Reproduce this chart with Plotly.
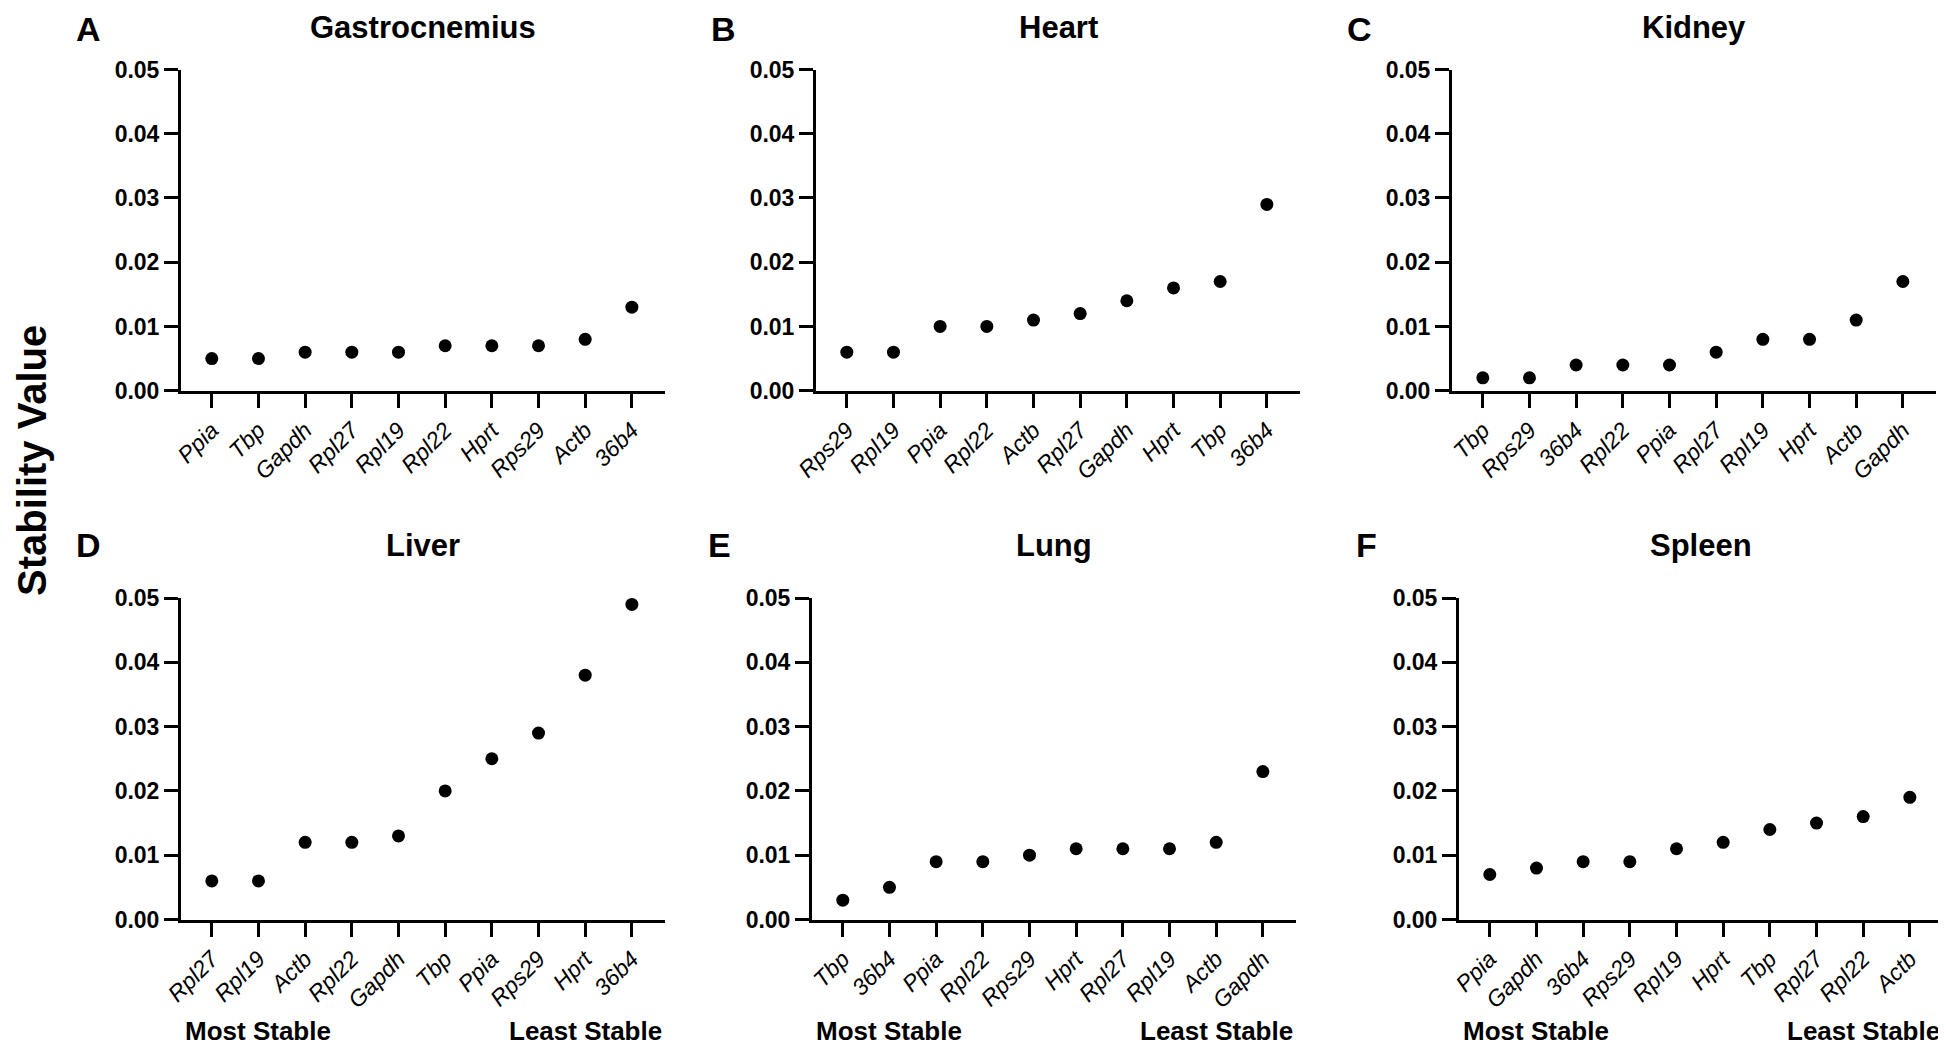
import plotly.graph_objects as go

# the page body has an 8px margin, so the figure is drawn 8px in from the corner
OFF = 8
W, H = 1946 - OFF, 1048 - OFF

# ---- data ----
tissues = ["Gastrocnemius", "Heart", "Kidney", "Liver", "Lung", "Spleen"]
panel_letters = ["A", "B", "C", "D", "E", "F"]

gastro_genes = ["Ppia", "Tbp", "Gapdh", "Rpl27", "Rpl19", "Rpl22", "Hprt", "Rps29", "Actb", "36b4"]
gastro_vals = [0.005, 0.005, 0.006, 0.006, 0.006, 0.007, 0.007, 0.007, 0.008, 0.013]

heart_genes = ["Rps29", "Rpl19", "Ppia", "Rpl22", "Actb", "Rpl27", "Gapdh", "Hprt", "Tbp", "36b4"]
heart_vals = [0.006, 0.006, 0.010, 0.010, 0.011, 0.012, 0.014, 0.016, 0.017, 0.029]

kidney_genes = ["Tbp", "Rps29", "36b4", "Rpl22", "Ppia", "Rpl27", "Rpl19", "Hprt", "Actb", "Gapdh"]
kidney_vals = [0.002, 0.002, 0.004, 0.004, 0.004, 0.006, 0.008, 0.008, 0.011, 0.017]

liver_genes = ["Rpl27", "Rpl19", "Actb", "Rpl22", "Gapdh", "Tbp", "Ppia", "Rps29", "Hprt", "36b4"]
liver_vals = [0.006, 0.006, 0.012, 0.012, 0.013, 0.020, 0.025, 0.029, 0.038, 0.049]

lung_genes = ["Tbp", "36b4", "Ppia", "Rpl22", "Rps29", "Hprt", "Rpl27", "Rpl19", "Actb", "Gapdh"]
lung_vals = [0.003, 0.005, 0.009, 0.009, 0.010, 0.011, 0.011, 0.011, 0.012, 0.023]

spleen_genes = ["Ppia", "Gapdh", "36b4", "Rps29", "Rpl19", "Hprt", "Tbp", "Rpl27", "Rpl22", "Actb"]
spleen_vals = [0.007, 0.008, 0.009, 0.009, 0.011, 0.012, 0.014, 0.015, 0.016, 0.019]

y_ticks = [0.00, 0.01, 0.02, 0.03, 0.04, 0.05]

panels = [
    (gastro_genes, gastro_vals),
    (heart_genes, heart_vals),
    (kidney_genes, kidney_vals),
    (liver_genes, liver_vals),
    (lung_genes, lung_vals),
    (spleen_genes, spleen_vals),
]

# ---- layout geometry (page pixels, converted to paper fractions below) ----
x_left = [181, 816, 1452, 181, 812, 1459]   # y-axis position of each panel
span = 484                                  # width of each plot area
row_top = [(69.5, 390.7), (598, 919.5)]     # (top, bottom) pixel of plot area per row


def px(x):
    return (x - OFF) / W


def py(y):
    return 1 - (y - OFF) / H


FONT = "Liberation Sans, Arial, sans-serif"

fig = go.Figure()
layout_axes = {}
annotations = []

for i, (genes, vals) in enumerate(panels):
    n = i + 1
    row = i // 3
    x0 = x_left[i]
    x1 = x0 + span
    top, bot = row_top[row]
    xa = "xaxis" if n == 1 else f"xaxis{n}"
    ya = "yaxis" if n == 1 else f"yaxis{n}"

    fig.add_trace(go.Scatter(
        x=genes, y=vals, mode="markers",
        marker=dict(color="black", size=13),
        xaxis=f"x{n}" if n > 1 else "x",
        yaxis=f"y{n}" if n > 1 else "y",
        cliponaxis=False,
        showlegend=False,
    ))

    layout_axes[xa] = dict(
        domain=[px(x0), px(x1)],
        anchor=f"y{n}" if n > 1 else "y",
        type="category",
        categoryorder="array", categoryarray=genes,
        range=[-0.66, 9.71],
        showline=True, linewidth=3, linecolor="black",
        ticks="outside", ticklen=14, tickwidth=3, tickcolor="black",
        tickangle=-45,
        tickfont=dict(family=FONT, size=23, color="black", style="italic"),
        showgrid=False, zeroline=False, fixedrange=True, automargin=False,
    )
    layout_axes[ya] = dict(
        domain=[py(bot), py(top)],
        anchor=f"x{n}" if n > 1 else "x",
        range=[0, 0.05],
        tickvals=y_ticks, tickformat=".2f",
        showline=True, linewidth=3, linecolor="black",
        ticks="outside", ticklen=14, tickwidth=3, tickcolor="black",
        tickfont=dict(family=FONT, size=23, color="black", weight="bold"),
        showgrid=False, zeroline=False, fixedrange=True, automargin=False,
    )

    # titles of the top row sit right at the page edge: hang them from the top
    if row == 0:
        ty, tanchor = 1.0, "top"
    else:
        ty, tanchor = py(545), "middle"

    # panel title
    annotations.append(dict(
        text=tissues[i], xref="paper", yref="paper",
        x=px((x0 + x1) / 2), y=ty,
        xanchor="center", yanchor=tanchor, showarrow=False,
        font=dict(family=FONT, size=31, color="black", weight="bold"),
    ))
    # panel letter
    annotations.append(dict(
        text=panel_letters[i], xref="paper", yref="paper",
        x=px(x0 - 93), y=ty,
        xanchor="center", yanchor=tanchor, showarrow=False,
        font=dict(family=FONT, size=34, color="black", weight="bold"),
    ))
    # stability direction labels on bottom row
    if row == 1:
        xr = f"x{n}" if n > 1 else "x"
        for label, pos in (("Most Stable", 1), ("Least Stable", 8)):
            annotations.append(dict(
                text=label, xref=xr, yref="paper",
                x=pos, y=0,
                xanchor="center", yanchor="bottom", showarrow=False,
                font=dict(family=FONT, size=26, color="black", weight="bold"),
            ))

# shared y label
annotations.append(dict(
    text="Stability Value", xref="paper", yref="paper",
    x=0, y=py(461), textangle=-90,
    xanchor="left", yanchor="middle", showarrow=False,
    font=dict(family=FONT, size=40, color="black", weight="bold"),
))

fig.update_layout(
    width=W, height=H,
    margin=dict(l=0, r=0, t=0, b=0, autoexpand=False),
    paper_bgcolor="white", plot_bgcolor="white",
    showlegend=False,
    annotations=annotations,
    **layout_axes,
)

fig.write_html("out.html")
